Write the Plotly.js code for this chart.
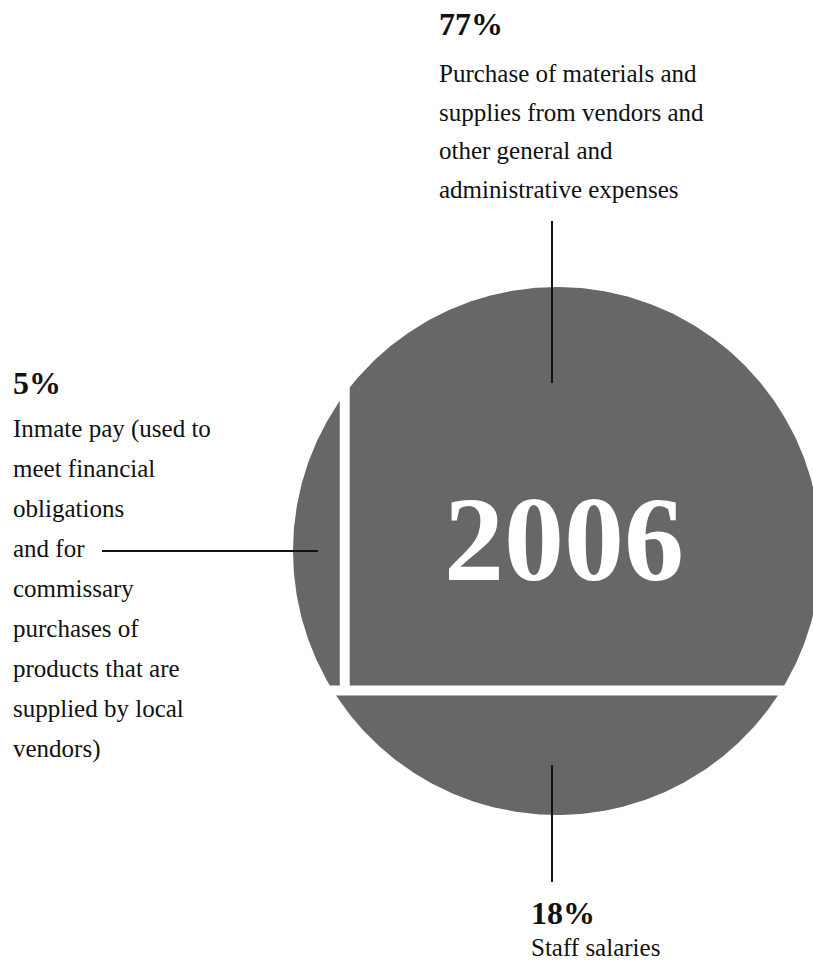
<!DOCTYPE html>
<html>
<head>
<meta charset="utf-8">
<script src="https://cdn.plot.ly/plotly-3.0.1.min.js"></script>
<style>html,body{margin:0;padding:0;background:#fff;}#chart{width:813px;height:965px;}</style>
</head>
<body>
<div id="chart"></div>
<script>
// ---- data ----
const year = '2006';
const categories = ['Purchase of materials and supplies', 'Inmate pay', 'Staff salaries'];
const shares = [77, 5, 18];            // percent of total
const shareLabels = ['77%', '5%', '18%'];
const mainLines = ['Purchase of materials and', 'supplies from vendors and', 'other general and', 'administrative expenses'];
const leftLines = ['Inmate pay (used to', 'meet financial', 'obligations', 'and for', 'commissary', 'purchases of', 'products that are', 'supplied by local', 'vendors)'];
const bottomLines = ['Staff salaries'];

// ---- layout constants (pixels) ----
const W = 813, H = 965;
const CX = 557, CY = 551, R = 264;     // circle placement on the page
const GAP = 10;                        // white gap between regions, px
const FONT = 'Liberation Serif, Times New Roman, serif';
const DARK = '#676767';

// ---- geometry from data (unit circle, areas proportional to shares) ----
const total = shares.reduce((a, b) => a + b, 0);
const fMain = shares[0] / total, fLeft = shares[1] / total, fBottom = shares[2] / total;

function bisect(fn, target, lo, hi, increasing) {
  for (let i = 0; i < 80; i++) {
    const mid = (lo + hi) / 2, v = fn(mid);
    if ((v < target) === increasing) lo = mid; else hi = mid;
  }
  return (lo + hi) / 2;
}
// fraction of circle area below the chord y = -d
function segFrac(d) { const th = 2 * Math.acos(d); return (th - Math.sin(th)) / (2 * Math.PI); }
const dB = bisect(segFrac, fBottom, 0, 1, false);
const y0 = -dB;
// fraction of circle area with x <= x1 and y >= y0
function leftFrac(x1) {
  const n = 3000; let s = 0; const h = (x1 + 1) / n;
  for (let i = 0; i < n; i++) {
    const x = -1 + (i + 0.5) * h, c = Math.sqrt(Math.max(0, 1 - x * x));
    s += Math.max(0, c - Math.max(y0, -c)) * h;
  }
  return s / Math.PI;
}
const x1 = bisect(leftFrac, fLeft, -1, 0, true);

const g = (GAP / 2) / R;
function arc(a0, a1, n) {
  const xs = [], ys = [];
  for (let i = 0; i <= n; i++) { const a = a0 + (a1 - a0) * i / n; xs.push(Math.cos(a)); ys.push(Math.sin(a)); }
  return [xs, ys];
}
// main region: x >= x1+g, y >= y0+g
const mx = x1 + g, my = y0 + g;
let [ax, ay] = arc(Math.asin(my), Math.acos(mx), 300);
const mainX = [mx].concat(ax), mainY = [my].concat(ay);
// left region: x <= x1-g, y >= y0+g
const lx = x1 - g, ly = y0 + g;
[ax, ay] = arc(Math.acos(lx), Math.PI - Math.asin(ly), 120);
const leftX = [lx].concat(ax), leftY = [ly].concat(ay);
// bottom region: y <= y0-g
const by = y0 - g;
[ax, ay] = arc(Math.PI - Math.asin(by), 2 * Math.PI + Math.asin(by), 240);
const botX = ax, botY = ay;

function region(xs, ys, name, val) {
  return { type: 'scatter', mode: 'lines', x: xs, y: ys, fill: 'toself', fillcolor: DARK,
           line: { width: 0, color: DARK }, name: name, text: val + '%', hoverinfo: 'name+text', showlegend: false };
}
const traces = [
  region(mainX, mainY, categories[0], shares[0]),
  region(leftX, leftY, categories[1], shares[1]),
  region(botX, botY, categories[2], shares[2])
];

// ---- annotations ----
const px = x => x / W, py = y => 1 - y / H;
const ann = [];
function txt(s, x, baseline, size, bold, anchor) {
  ann.push({ xref: 'paper', yref: 'paper', x: px(x), y: py(baseline - 0.34 * size),
    xanchor: anchor || 'left', yanchor: 'middle', showarrow: false,
    text: bold ? '<b>' + s + '</b>' : s, font: { family: FONT, size: size, color: '#111' } });
}
txt(shareLabels[0], 437, 35, 32, true);
mainLines.forEach((s, i) => txt(s, 437, 81.7 + i * 38.9, 25, false));
txt(shareLabels[1], 11, 394, 32, true);
leftLines.forEach((s, i) => txt(s, 11, 437 + i * 40, 25, false));
txt(shareLabels[2], 529, 924, 32, true);
bottomLines.forEach((s, i) => txt(s, 529, 956 + i * 40, 25, false));
ann.push({ xref: 'paper', yref: 'paper', x: px(564), y: py(580 - 0.34 * 120), xanchor: 'center', yanchor: 'middle',
  showarrow: false, text: '<b>' + year + '</b>', font: { family: FONT, size: 120, color: '#fff' } });

const lineStyle = { color: '#111', width: 2 };
const shapes = [
  { type: 'line', xref: 'paper', yref: 'paper', x0: px(552), x1: px(552), y0: py(221), y1: py(383), line: lineStyle },
  { type: 'line', xref: 'paper', yref: 'paper', x0: px(102), x1: px(318), y0: py(551), y1: py(551), line: lineStyle },
  { type: 'line', xref: 'paper', yref: 'paper', x0: px(552), x1: px(552), y0: py(765), y1: py(882), line: lineStyle }
];

const layout = {
  width: W, height: H, margin: { l: 0, r: 0, t: 0, b: 0 },
  paper_bgcolor: '#fff', plot_bgcolor: '#fff',
  xaxis: { range: [(0 - CX) / R, (W - CX) / R], visible: false, fixedrange: true },
  yaxis: { range: [(CY - H) / R, CY / R], visible: false, fixedrange: true },
  annotations: ann, shapes: shapes, hovermode: false
};
Plotly.newPlot('chart', traces, layout, { displayModeBar: false, staticPlot: true });
</script>
</body>
</html>
